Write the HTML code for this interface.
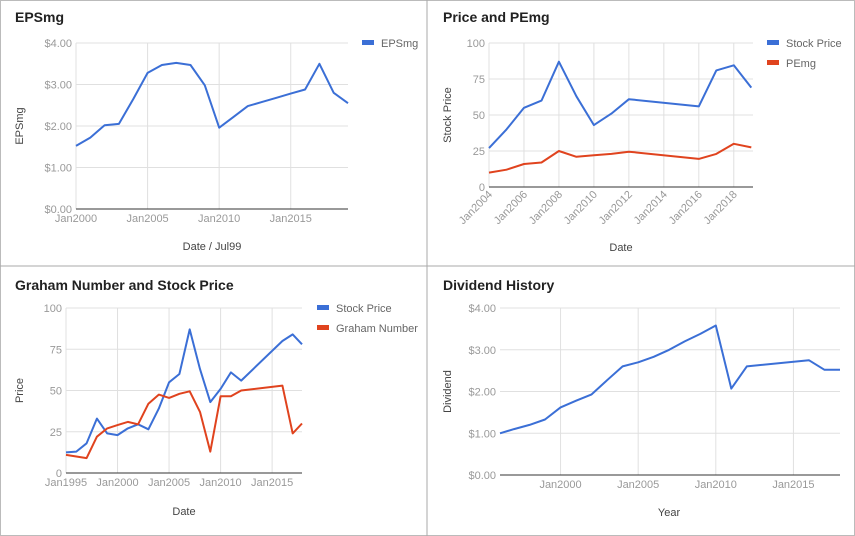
<!DOCTYPE html>
<html><head><meta charset="utf-8"><style>
body{margin:0;background:#fff;font-family:"Liberation Sans",Arial,sans-serif}
svg{display:block}
</style></head><body>
<svg id="s" width="855" height="536" font-family="Liberation Sans, Arial, sans-serif">
<rect x="0.5" y="0.5" width="854" height="535" fill="#fff" stroke="#bbb"/>
<line x1="427" y1="0" x2="427" y2="536" stroke="#aaa"/>
<line x1="0" y1="266" x2="855" y2="266" stroke="#aaa"/>
</svg>
<script>
// Chart 1: EPSmg
const epsYears=[2000,2001,2002,2003,2004,2005,2006,2007,2008,2009,2010,2011,2012,2013,2014,2015,2016,2017,2018,2019];
const epsValues=[1.52,1.72,2.02,2.05,2.65,3.28,3.47,3.52,3.47,2.98,1.96,2.22,2.48,2.58,2.68,2.78,2.88,3.50,2.80,2.55];
const epsYTicks=["$0.00","$1.00","$2.00","$3.00","$4.00"];
const epsXTicks=["Jan2000","Jan2005","Jan2010","Jan2015"];
// Chart 2: Price and PEmg
const pYears=[2004,2005,2006,2007,2008,2009,2010,2011,2012,2016,2017,2018,2019];
const pPrice=[27,40,55,60,87,63,43,51,61,56,81,84.5,69];
const pPE=[10,12,16,17,25,21,22,23,24.5,19.5,23,30,27.5];
const pYTicks=["0","25","50","75","100"];
const pXTicks=["Jan2004","Jan2006","Jan2008","Jan2010","Jan2012","Jan2014","Jan2016","Jan2018"];
// Chart 3: Graham
const gYears=[1995,1996,1997,1998,1999,2000,2001,2002,2003,2004,2005,2006,2007,2008,2009,2010,2011,2012,2016,2017,2017.9];
const gPrice=[12.5,13,18,33,24,23,27,29.5,26.5,39,55,60,87,63,43,51,61,56,80,84,78];
const gGraham=[11,10,9,22,27,29,31,29.5,42,47.5,45.5,48,49.5,37,13,46.5,46.5,50,53,24,30];
const gYTicks=["0","25","50","75","100"];
const gXTicks=["Jan1995","Jan2000","Jan2005","Jan2010","Jan2015"];
// Chart 4: Dividends
const dYears=[1996.1,1997,1998,1999,2000,2001,2002,2003,2004,2005,2006,2007,2008,2009,2010,2011,2012,2016,2017,2018];
const dValues=[1.0,1.1,1.2,1.33,1.62,1.78,1.93,2.27,2.6,2.7,2.83,3.0,3.2,3.38,3.58,2.07,2.6,2.75,2.52,2.52];
const dYTicks=["$0.00","$1.00","$2.00","$3.00","$4.00"];
const dXTicks=["Jan2000","Jan2005","Jan2010","Jan2015"];

const NS="http://www.w3.org/2000/svg";
const svg=document.getElementById('s');
function mk(tag,attrs,parent,txt){const e=document.createElementNS(NS,tag);for(const k in attrs)e.setAttribute(k,attrs[k]);if(txt!==undefined)e.textContent=txt;(parent||svg).appendChild(e);return e;}
function tickYear(t){return parseFloat(t.replace(/[^0-9.]/g,''));}
function tickVal(t){return parseFloat(t.replace(/[^0-9.]/g,''));}

function chart(c){
  const g=mk('g',{});
  
  
  const X=v=>c.l+(v-c.x0)/(c.x1-c.x0)*(c.r-c.l);
  const Y=v=>c.b-(v-c.y0)/(c.y1-c.y0)*(c.b-c.t);
  const ti=mk('text',{x:c.ox+15,y:c.oy+22,'font-size':14,'font-weight':'bold',fill:'#222'},g,c.title);
  
  
  c.yTicks.forEach(t=>{const v=tickVal(t),y=Y(v);
    const gl=mk('line',{x1:c.l,x2:c.r,y1:y,y2:y,stroke:v===c.y0?'#333':'#e0e0e0','stroke-width':1},g);
    
    
    const tl=mk('text',{x:c.l-4,y:y+4,'font-size':11,fill:'#999','text-anchor':'end'},g,t);
    
    
  });
  c.xTicks.forEach(t=>{const x=X(tickYear(t));
    const gl=mk('line',{x1:x,x2:x,y1:c.t,y2:c.b,stroke:'#e0e0e0'},g);
    
    
    let tl;
    if(c.rot){tl=mk('text',{x:x+4,y:c.b+8,'font-size':11,fill:'#999','text-anchor':'end',transform:`rotate(-45 ${x+4} ${c.b+8})`},g,t);}
    else tl=mk('text',{x:x,y:c.b+13,'font-size':11,fill:'#999','text-anchor':'middle'},g,t);
    
    
  });
  const ax=mk('line',{x1:c.l,x2:c.r,y1:c.b,y2:c.b,stroke:'#333'},g);
  
  
  const xt=mk('text',{x:c.xtx,y:c.xty,'font-size':11,fill:'#444','text-anchor':'middle'},g,c.xTitle);
  
  
  const yx=c.ox+23,yy=(c.t+c.b)/2;
  const yt=mk('text',{x:yx,y:yy,'font-size':11,fill:'#444','text-anchor':'middle',transform:`rotate(-90 ${yx} ${yy})`},g,c.yTitle);
  
  
  c.series.forEach((s,i)=>{
    const d=s.vals.map((v,j)=>(j?'L':'M')+X(c.xs[j]).toFixed(1)+' '+Y(v).toFixed(1)).join(' ');
    const p=mk('path',{d:d,fill:'none',stroke:s.color,'stroke-width':2,'stroke-linejoin':'round'},g);
    
    
    if(c.legX){
      const ly=c.legY+i*20;
      const lg=mk('g',{},g);
      
      
      mk('rect',{x:c.legX,y:ly-3,width:12,height:5,fill:s.color},lg);
      mk('text',{x:c.legX+19,y:ly+4,'font-size':11,fill:'#666'},lg,s.label);
    }
  });
}
chart({name:'epsmg-chart',ox:0,oy:0,title:'EPSmg',l:76,r:348,t:43,b:209,x0:2000,x1:2019,y0:0,y1:4,
  xs:epsYears,yTicks:epsYTicks,xTicks:epsXTicks,xTitle:'Date / Jul99',xtx:212,xty:250,yTitle:'EPSmg',
  legX:362,legY:43,series:[{id:'epsmg',label:'EPSmg',vals:epsValues,color:'#3b6fd6'}]});
chart({name:'price-pemg-chart',ox:428,oy:0,title:'Price and PEmg',l:489,r:753,t:43,b:187,x0:2004,x1:2019.1,y0:0,y1:100,rot:true,
  xs:pYears,yTicks:pYTicks,xTicks:pXTicks,xTitle:'Date',xtx:621,xty:251,yTitle:'Stock Price',
  legX:767,legY:43,series:[{id:'stock-price',label:'Stock Price',vals:pPrice,color:'#3b6fd6'},{id:'pemg',label:'PEmg',vals:pPE,color:'#e0431e'}]});
chart({name:'graham-chart',ox:0,oy:268,title:'Graham Number and Stock Price',l:66,r:302,t:308,b:473,x0:1995,x1:2017.9,y0:0,y1:100,
  xs:gYears,yTicks:gYTicks,xTicks:gXTicks,xTitle:'Date',xtx:184,xty:515,yTitle:'Price',
  legX:317,legY:308,series:[{id:'stock-price-2',label:'Stock Price',vals:gPrice,color:'#3b6fd6'},{id:'graham-number',label:'Graham Number',vals:gGraham,color:'#e0431e'}]});
chart({name:'dividend-chart',ox:428,oy:268,title:'Dividend History',l:500,r:840,t:308,b:475,x0:1996.1,x1:2018,y0:0,y1:4,
  xs:dYears,yTicks:dYTicks,xTicks:dXTicks,xTitle:'Year',xtx:669,xty:516,yTitle:'Dividend',
  series:[{id:'dividend',label:'Dividend',vals:dValues,color:'#3b6fd6'}]});
</script>
</body></html>
